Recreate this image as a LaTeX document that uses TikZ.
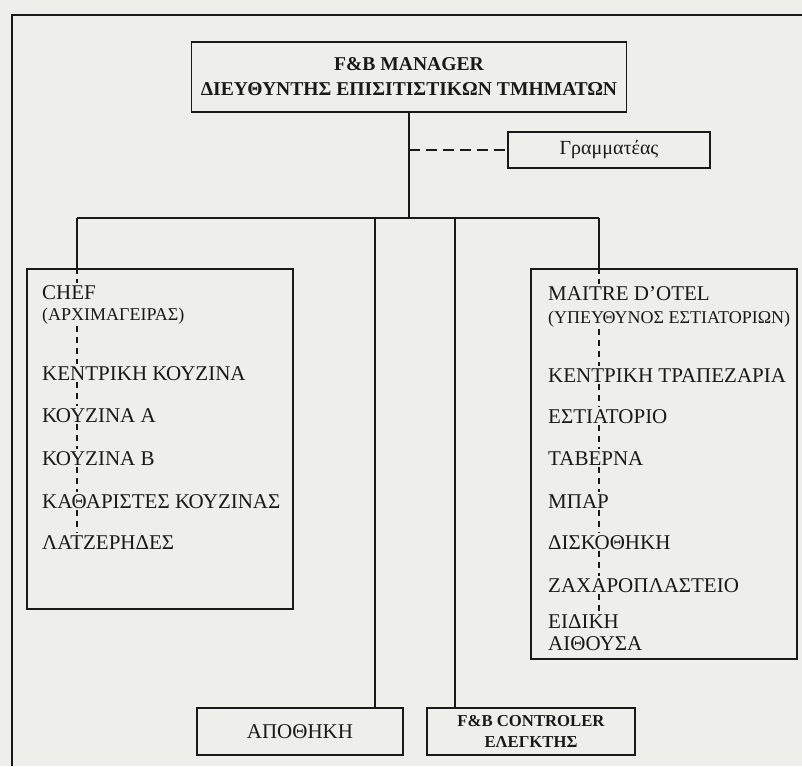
\documentclass[tikz,border=0pt]{standalone}
\usepackage{fontspec}
\setmainfont{Liberation Serif}
\definecolor{paper}{RGB}{238,238,235}
\definecolor{ink}{RGB}{25,25,25}
\begin{document}
\begin{tikzpicture}[x=1pt,y=-1pt,
  box/.style={draw=ink,line width=1.8pt,inner sep=0pt},
  conn/.style={draw=ink,line width=1.8pt},
  dashv/.style={draw=ink,line width=1.5pt,dash pattern=on 6pt off 5pt},
  dashh/.style={draw=ink,line width=1.8pt,dash pattern=on 11pt off 6pt},
  item/.style={anchor=base west,inner sep=2pt,text=ink,font=\fontsize{21}{24}\selectfont},
  sub/.style={anchor=base west,inner sep=2pt,text=ink,font=\fontsize{18}{21}\selectfont},
  head/.style={align=center,text=ink,font=\fontsize{19.6}{25}\selectfont\bfseries}]
\fill[paper] (0,0) rectangle (802,766);
\useasboundingbox (0,0) rectangle (802,766);
% outer frame
\draw[conn] (12,766) -- (12,15) -- (802,15);
% boxes
\node[box,minimum width=435pt,minimum height=70pt] (mgr) at (409,77) {};
\node[head] at (mgr.center) {F\&B MANAGER\\ΔΙΕΥΘΥΝΤΗΣ ΕΠΙΣΙΤΙΣΤΙΚΩΝ ΤΜΗΜΑΤΩΝ};
\node[box,minimum width=202pt,minimum height=36pt,text=ink,font=\fontsize{20}{23}\selectfont] (gram) at (609,150) {Γραμματέας};
\node[box,minimum width=266pt,minimum height=340pt] (chefbox) at (160,439) {};
\node[box,minimum width=266pt,minimum height=390pt] (maitrebox) at (664,464) {};
\node[box,minimum width=206pt,minimum height=47pt,text=ink,font=\fontsize{21}{24}\selectfont] (apo) at (300,731.5) {ΑΠΟΘΗΚΗ};
\node[box,minimum width=208pt,minimum height=47pt,align=center,text=ink,font=\fontsize{16.7}{21}\selectfont\bfseries] (ctrl) at (531,731.5) {F\&B CONTROLER\\ΕΛΕΓΚΤΗΣ};
% bus coordinates
\coordinate (busL) at (77,218);
\coordinate (busA) at (375,218);
\coordinate (busC) at (455,218);
\coordinate (busR) at (599,218);
\coordinate (trunk) at (mgr.south |- busL);
% connectors
\draw[conn] (mgr.south) -- (trunk);
\draw[dashh] (gram.west -| mgr.south) -- (gram.west);
\draw[conn] (busL) -- (busR);
\draw[conn] (busL) -- (busL |- chefbox.north);
\draw[conn] (busA) -- (busA |- apo.north);
\draw[conn] (busC) -- (busC |- ctrl.north);
\draw[conn] (busR) -- (busR |- maitrebox.north);
% left box texts
\node[item] (c1) at (40,299) {CHEF};
\node[sub] (c2) at (40,320) {(ΑΡΧΙΜΑΓΕΙΡΑΣ)};
\node[item] (c3) at (40,380) {ΚΕΝΤΡΙΚΗ ΚΟΥΖΙΝΑ};
\node[item] (c4) at (40,422) {ΚΟΥΖΙΝΑ Α};
\node[item] (c5) at (40,465) {ΚΟΥΖΙΝΑ Β};
\node[item] (c6) at (40,508) {ΚΑΘΑΡΙΣΤΕΣ ΚΟΥΖΙΝΑΣ};
\node[item] (c7) at (40,549) {ΛΑΤΖΕΡΗΔΕΣ};
\draw[dashv] (busL |- chefbox.north) -- (busL |- c1.north);
\foreach \a/\b in {c2/c3,c3/c4,c4/c5,c5/c6,c6/c7}
  \draw[dashv] (busL |- \a.south) -- (busL |- \b.north);
% right box texts
\node[item] (m1) at (546,300) {MAITRE D’OTEL};
\node[sub] (m2) at (546,323) {(ΥΠΕΥΘΥΝΟΣ ΕΣΤΙΑΤΟΡΙΩΝ)};
\node[item] (m3) at (546,382) {ΚΕΝΤΡΙΚΗ ΤΡΑΠΕΖΑΡΙΑ};
\node[item] (m4) at (546,423) {ΕΣΤΙΑΤΟΡΙΟ};
\node[item] (m5) at (546,465) {ΤΑΒΕΡΝΑ};
\node[item] (m6) at (546,508) {ΜΠΑΡ};
\node[item] (m7) at (546,549) {ΔΙΣΚΟΘΗΚΗ};
\node[item] (m8) at (546,592) {ΖΑΧΑΡΟΠΛΑΣΤΕΙΟ};
\node[item] (m9) at (546,628) {ΕΙΔΙΚΗ};
\node[item] (m10) at (546,650) {ΑΙΘΟΥΣΑ};
\draw[dashv] (busR |- maitrebox.north) -- (busR |- m1.north);
\foreach \a/\b in {m2/m3,m3/m4,m4/m5,m5/m6,m6/m7,m7/m8,m8/m9}
  \draw[dashv] (busR |- \a.south) -- (busR |- \b.north);
\end{tikzpicture}
\end{document}
